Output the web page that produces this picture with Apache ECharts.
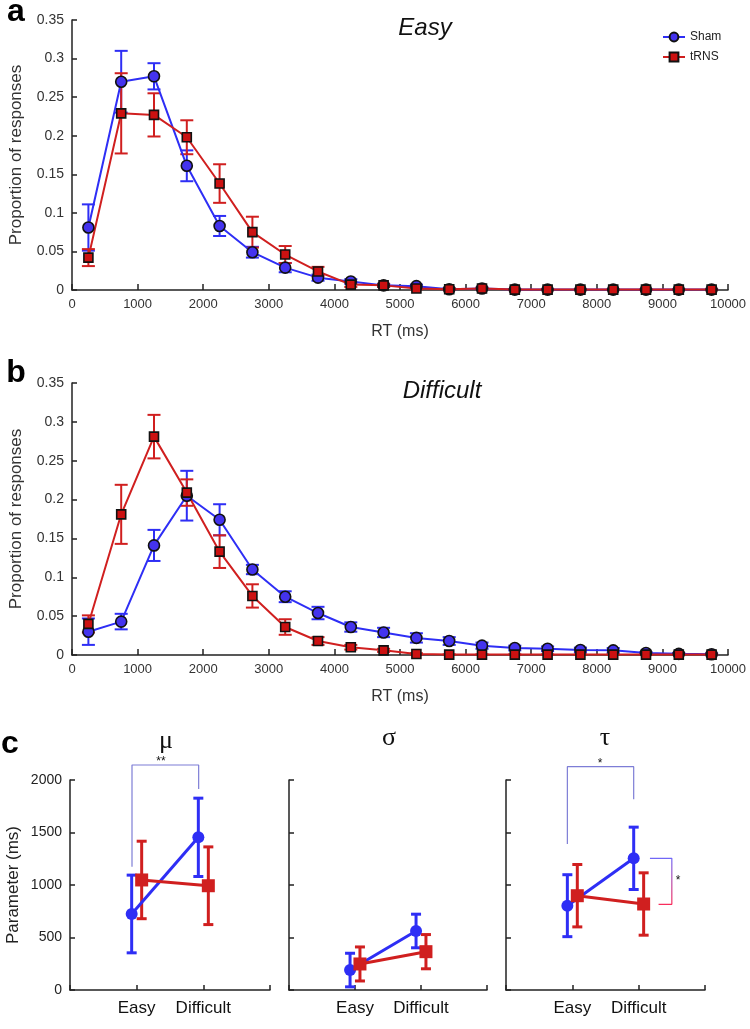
<!DOCTYPE html>
<html>
<head>
<meta charset="utf-8">
<script src="https://cdn.jsdelivr.net/npm/echarts@6/dist/echarts.min.js"></script>
<style>
  html, body { margin: 0; padding: 0; background: #fff; }
  #chart { width: 750px; height: 1029px; }
</style>
</head>
<body>
<div id="chart"></div>
<script>
// RT bins (bin centres, ms)
const rtBins = [250, 750, 1250, 1750, 2250, 2750, 3250, 3750, 4250, 4750,
  5250, 5750, 6250, 6750, 7250, 7750, 8250, 8750, 9250, 9750];
const rtTicks = [0, 1000, 2000, 3000, 4000, 5000, 6000, 7000, 8000, 9000, 10000];
const propTicks = [0, 0.05, 0.1, 0.15, 0.2, 0.25, 0.3, 0.35];

// Panel a: Easy
const easySham = [0.081, 0.270, 0.277, 0.161, 0.083, 0.049, 0.029, 0.016, 0.011, 0.006,
  0.005, 0.001, 0.002, 0.0005, 0.0005, 0.0005, 0.0005, 0.0005, 0.0005, 0.0005];
const easyShamErr = [0.030, 0.040, 0.017, 0.020, 0.013, 0.007, 0.006, 0.004, 0.003, 0.002,
  0.002, 0.001, 0.001, 0, 0, 0, 0, 0, 0, 0];
const easyTrns = [0.042, 0.229, 0.227, 0.198, 0.138, 0.075, 0.046, 0.024, 0.007, 0.006,
  0.002, 0.001, 0.002, 0.0005, 0.0005, 0.0005, 0.0005, 0.0005, 0.0005, 0.0005];
const easyTrnsErr = [0.011, 0.052, 0.028, 0.022, 0.025, 0.020, 0.011, 0.006, 0.003, 0.002,
  0.001, 0.001, 0.001, 0, 0, 0, 0, 0, 0, 0];

// Panel b: Difficult
const hardSham = [0.030, 0.043, 0.141, 0.205, 0.174, 0.110, 0.075, 0.054, 0.036, 0.029,
  0.022, 0.018, 0.012, 0.009, 0.008, 0.0065, 0.006, 0.0025, 0.0015, 0.001];
const hardShamErr = [0.017, 0.010, 0.020, 0.032, 0.020, 0.006, 0.007, 0.008, 0.006, 0.006,
  0.006, 0.005, 0.004, 0.003, 0.003, 0.003, 0.003, 0.001, 0.001, 0.001];
const hardTrns = [0.040, 0.181, 0.281, 0.209, 0.133, 0.076, 0.036, 0.018, 0.010, 0.006,
  0.0013, 0.0005, 0.0005, 0.0005, 0.0005, 0.0005, 0.0005, 0.0005, 0.0005, 0.0005];
const hardTrnsErr = [0.011, 0.038, 0.028, 0.017, 0.021, 0.015, 0.010, 0.005, 0.003, 0.002,
  0.001, 0, 0, 0, 0, 0, 0, 0, 0, 0];

// Panel c: ex-Gaussian parameters (ms)
const conditions = ['Easy', 'Difficult'];
const condPos = [1, 2];
const paramTicks = [0, 500, 1000, 1500, 2000];
const muSham = [724, 1454];
const muShamErr = [370, 373];
const muTrns = [1048, 993];
const muTrnsErr = [369, 370];
const sigmaSham = [190, 562];
const sigmaShamErr = [160, 160];
const sigmaTrns = [248, 365];
const sigmaTrnsErr = [162, 163];
const tauSham = [803, 1254];
const tauShamErr = [295, 297];
const tauTrns = [898, 819];
const tauTrnsErr = [297, 297];

// significance brackets (x in condition units, y in ms)
const muBracket = [[0.93, 1175], [0.93, 2143], [1.93, 2143], [1.93, 1914]];
const tauBracket = [[0.925, 1390], [0.925, 2127], [1.925, 2127], [1.925, 1816]];
const tauSideBracket = [[2.17, 1254], [2.5, 1254], [2.5, 816], [2.3, 816]];

const BLUE = '#2e2ef5';
const RED = '#d01f1f';
const SANS = 'Liberation Sans, Arial, Helvetica, sans-serif';

const chart = echarts.init(document.getElementById('chart'));

function pairs(xs, ys, errs) {
  return xs.map((x, i) => errs ? [x, ys[i], errs[i]] : [x, ys[i]]);
}

function errorBars(idx, data, color, cap, width) {
  return {
    type: 'custom',
    xAxisIndex: idx,
    yAxisIndex: idx,
    z: 1,
    silent: true,
    data: data,
    renderItem: function (params, api) {
      const x = api.value(0), y = api.value(1), e = api.value(2);
      const top = api.coord([x, y + e]);
      const bot = api.coord([x, y - e]);
      const st = { stroke: color, lineWidth: width };
      return {
        type: 'group',
        children: [
          { type: 'line', shape: { x1: top[0], y1: top[1], x2: bot[0], y2: bot[1] }, style: st },
          { type: 'line', shape: { x1: top[0] - cap / 2, y1: top[1], x2: top[0] + cap / 2, y2: top[1] }, style: st },
          { type: 'line', shape: { x1: bot[0] - cap / 2, y1: bot[1], x2: bot[0] + cap / 2, y2: bot[1] }, style: st }
        ]
      };
    }
  };
}

function distLine(name, idx, ys, color, symbol, size, fill) {
  return {
    name: name,
    type: 'line',
    xAxisIndex: idx,
    yAxisIndex: idx,
    z: 3,
    data: pairs(rtBins, ys),
    symbol: symbol,
    symbolSize: size,
    showAllSymbol: true,
    lineStyle: { color: color, width: 2 },
    itemStyle: { color: fill, borderColor: '#111', borderWidth: 1.6 },
    emphasis: { disabled: true },
    animation: false
  };
}

function paramLine(idx, ys, off, color, symbol, size) {
  return {
    type: 'line',
    xAxisIndex: idx,
    yAxisIndex: idx,
    z: 3,
    data: pairs(condPos.map(p => p + off), ys),
    symbol: symbol,
    symbolSize: size,
    lineStyle: { color: color, width: 3 },
    itemStyle: { color: color },
    emphasis: { disabled: true },
    animation: false
  };
}

function bracket(idx, data, color) {
  return {
    type: 'line',
    xAxisIndex: idx,
    yAxisIndex: idx,
    clip: false,
    silent: true,
    symbol: 'none',
    data: data,
    lineStyle: { color: color, width: 1.2 },
    animation: false
  };
}

const axisLine = { lineStyle: { color: '#222', width: 1.5 } };

function rtAxis(idx) {
  return {
    type: 'value', gridIndex: idx, min: 0, max: 10000, interval: 1000,
    name: 'RT (ms)', nameLocation: 'middle', nameGap: 34,
    nameTextStyle: { fontFamily: SANS, fontSize: 16, color: '#333' },
    axisLine: axisLine,
    axisTick: { inside: true, length: 6, lineStyle: { color: '#222', width: 1.5 } },
    axisLabel: { fontFamily: SANS, fontSize: 13, color: '#333', margin: 8, formatter: v => String(v) },
    splitLine: { show: false }
  };
}

function propAxis(idx) {
  return {
    type: 'value', gridIndex: idx, min: 0, max: 0.35, interval: 0.05,
    name: 'Proportion of responses', nameLocation: 'middle', nameGap: 47,
    nameTextStyle: { fontFamily: SANS, fontSize: 17, color: '#333' },
    axisLine: axisLine,
    axisTick: { inside: true, length: 5, lineStyle: { color: '#222', width: 1.5 } },
    axisLabel: {
      fontFamily: SANS, fontSize: 14, color: '#333', margin: 8,
      formatter: v => String(+v.toFixed(2))
    },
    splitLine: { show: false }
  };
}

function condAxis(idx) {
  return {
    type: 'value', gridIndex: idx, min: 0, max: 3, interval: 1,
    axisLine: axisLine,
    axisTick: { inside: true, length: 5, lineStyle: { color: '#222', width: 1.5 } },
    axisLabel: {
      fontFamily: SANS, fontSize: 17, color: '#111', margin: 10,
      formatter: v => (v >= 1 && v <= 2) ? conditions[v - 1] : ''
    },
    splitLine: { show: false }
  };
}

function paramAxis(idx, showLabel) {
  return {
    type: 'value', gridIndex: idx, min: 0, max: 2000, interval: 500,
    name: showLabel ? 'Parameter (ms)' : '', nameLocation: 'middle', nameGap: 48,
    nameTextStyle: { fontFamily: SANS, fontSize: 17, color: '#222' },
    axisLine: axisLine,
    axisTick: { inside: true, length: 5, lineStyle: { color: '#222', width: 1.5 } },
    axisLabel: { show: showLabel, fontFamily: SANS, fontSize: 14, color: '#222', margin: 8, formatter: v => String(v) },
    splitLine: { show: false }
  };
}

function txt(text, x, y, font, color) {
  return {
    type: 'text', x: x, y: y, silent: true,
    style: {
      text: text, font: font, fill: color || '#111',
      textAlign: 'center', textVerticalAlign: 'middle',
      align: 'center', verticalAlign: 'middle'
    }
  };
}

const option = {
  backgroundColor: '#fff',
  animation: false,
  grid: [
    { left: 68, top: 20, width: 660, height: 270 },
    { left: 68, top: 383, width: 660, height: 272 },
    { left: 70, top: 780, width: 200, height: 210 },
    { left: 289, top: 780, width: 198, height: 210 },
    { left: 506, top: 780, width: 199, height: 210 }
  ],
  xAxis: [rtAxis(0), rtAxis(1), condAxis(2), condAxis(3), condAxis(4)],
  yAxis: [propAxis(0), propAxis(1), paramAxis(2, true), paramAxis(3, false), paramAxis(4, false)],
  legend: {
    data: ['Sham', 'tRNS'],
    orient: 'vertical', left: 657, top: 26,
    itemWidth: 22, itemHeight: 11, itemGap: 8,
    textStyle: { fontFamily: SANS, fontSize: 12, color: '#222' },
    selectedMode: false
  },
  graphic: [
    txt('a', 16, 12, 'bold 32px ' + SANS, '#000'),
    txt('b', 16, 373, 'bold 32px ' + SANS, '#000'),
    txt('c', 10, 744, 'bold 32px ' + SANS, '#000'),
    txt('Easy', 425, 28, 'italic 24px ' + SANS),
    txt('Difficult', 442, 391, 'italic 24px ' + SANS),
    txt('\u03bc', 166, 741, '26px Liberation Serif, DejaVu Serif, serif'),
    txt('\u03c3', 389, 738, '26px Liberation Serif, DejaVu Serif, serif'),
    txt('\u03c4', 605, 738, '26px Liberation Serif, DejaVu Serif, serif'),
    txt('**', 161, 762, '12px ' + SANS),
    txt('*', 600, 764, '12px ' + SANS),
    txt('*', 678, 881, '12px ' + SANS)
  ],
  series: [
    // panel a
    errorBars(0, pairs(rtBins, easySham, easyShamErr), BLUE, 13, 2),
    errorBars(0, pairs(rtBins, easyTrns, easyTrnsErr), RED, 13, 2),
    distLine('Sham', 0, easySham, BLUE, 'circle', 11, '#4433ee'),
    distLine('tRNS', 0, easyTrns, RED, 'rect', 9, '#cc1111'),
    // panel b
    errorBars(1, pairs(rtBins, hardSham, hardShamErr), BLUE, 13, 2),
    errorBars(1, pairs(rtBins, hardTrns, hardTrnsErr), RED, 13, 2),
    distLine('Sham b', 1, hardSham, BLUE, 'circle', 11, '#4433ee'),
    distLine('tRNS b', 1, hardTrns, RED, 'rect', 9, '#cc1111'),
    // panel c: mu
    errorBars(2, pairs(condPos.map(p => p - 0.075), muSham, muShamErr), BLUE, 10, 3),
    errorBars(2, pairs(condPos.map(p => p + 0.075), muTrns, muTrnsErr), RED, 10, 3),
    paramLine(2, muSham, -0.075, BLUE, 'circle', 12),
    paramLine(2, muTrns, 0.075, RED, 'rect', 13),
    bracket(2, muBracket, '#7d7dd6'),
    // sigma
    errorBars(3, pairs(condPos.map(p => p - 0.075), sigmaSham, sigmaShamErr), BLUE, 10, 3),
    errorBars(3, pairs(condPos.map(p => p + 0.075), sigmaTrns, sigmaTrnsErr), RED, 10, 3),
    paramLine(3, sigmaSham, -0.075, BLUE, 'circle', 12),
    paramLine(3, sigmaTrns, 0.075, RED, 'rect', 13),
    // tau
    errorBars(4, pairs(condPos.map(p => p - 0.075), tauSham, tauShamErr), BLUE, 10, 3),
    errorBars(4, pairs(condPos.map(p => p + 0.075), tauTrns, tauTrnsErr), RED, 10, 3),
    paramLine(4, tauSham, -0.075, BLUE, 'circle', 12),
    paramLine(4, tauTrns, 0.075, RED, 'rect', 13),
    bracket(4, tauBracket, '#7d7dd6'),
    bracket(4, tauSideBracket, new echarts.graphic.LinearGradient(0, 0, 0, 1, [
      { offset: 0, color: '#6a6aff' },
      { offset: 1, color: '#ff2a55' }
    ]))
  ]
};

chart.setOption(option);
</script>
</body>
</html>
